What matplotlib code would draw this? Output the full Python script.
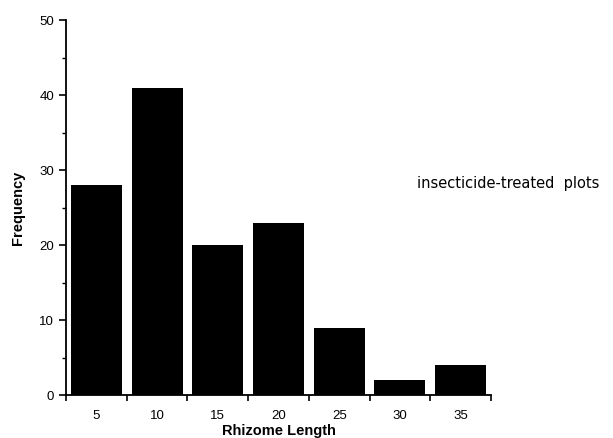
import matplotlib
matplotlib.use('Agg')
import matplotlib.pyplot as plt

# Rhizome length classes and counts
lengths = [5, 10, 15, 20, 25, 30, 35]
frequency = [28, 41, 20, 23, 9, 2, 4]
bin_width = 5

plt.rcParams['font.family'] = ['Liberation Sans', 'DejaVu Sans']

fig = plt.figure(figsize=(6.13, 4.38), dpi=100)
ax = fig.add_axes([0.1077, 0.098, 0.6933, 0.856])

ax.bar(lengths, frequency, width=bin_width * 0.84, color='black')

ax.set_xlim(lengths[0] - bin_width / 2, lengths[-1] + bin_width / 2)
ax.set_ylim(0, 50)

# ticks at bin edges, labels at bin centres
edges = [l - bin_width / 2 for l in lengths] + [lengths[-1] + bin_width / 2]
ax.set_xticks(edges)
ax.set_xticklabels([])
ax.set_xticks(lengths, minor=True)
ax.set_xticklabels([str(l) for l in lengths], minor=True)
ax.tick_params(axis='x', which='major', length=4, width=1.2, direction='out')
ax.tick_params(axis='x', which='minor', length=0, pad=11, labelsize=9.5)

ax.set_yticks(range(0, 51, 10))
ax.set_yticks(range(5, 50, 10), minor=True)
ax.tick_params(axis='y', which='major', length=5, width=1.2, labelsize=9.5)
ax.tick_params(axis='y', which='minor', length=3, width=1)

for s in ['top', 'right']:
    ax.spines[s].set_visible(False)
for s in ['left', 'bottom']:
    ax.spines[s].set_linewidth(1.3)

ax.set_xlabel('Rhizome Length', fontsize=10.5, fontweight='bold', labelpad=1)
ax.set_ylabel('Frequency', fontsize=10.5, fontweight='bold', labelpad=10)

fig.text(0.681, 0.582, 'insecticide-treated  plots', fontsize=10.5,
         family='DejaVu Sans', va='center')

fig.savefig('out.png', dpi=100)
